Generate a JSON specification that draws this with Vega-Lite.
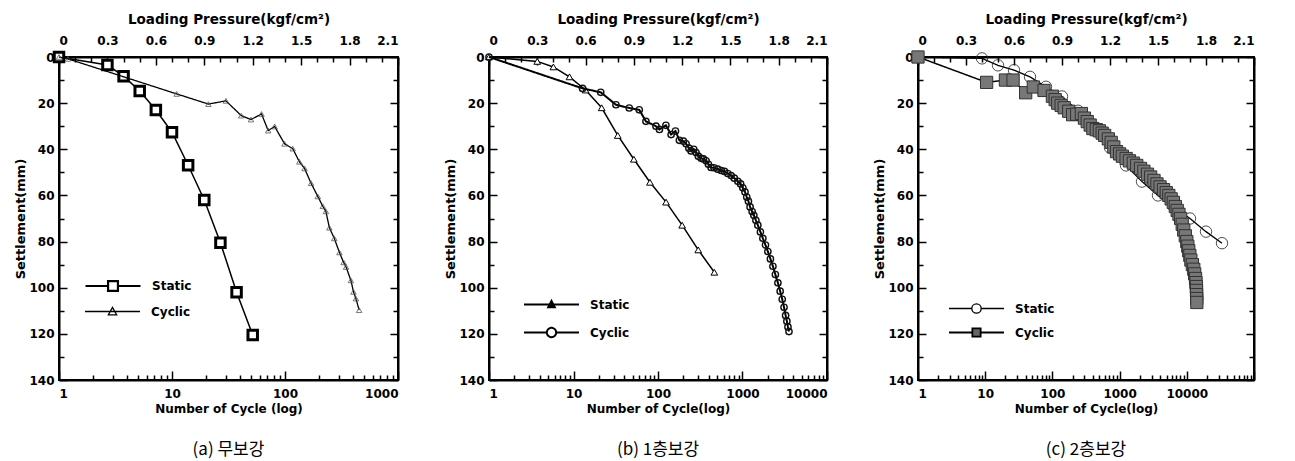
{
  "$schema": "https://vega.github.io/schema/vega-lite/v6.json",
  "background": "white",
  "padding": {"left": 13, "top": 11, "right": 5, "bottom": 5},
  "bounds": "flush",
  "spacing": 91,
  "resolve": {"scale": {"x": "independent", "y": "independent", "color": "independent", "strokeDash": "independent"}, "legend": {"color": "independent", "strokeDash": "independent"}},
  "config": {
    "view": {"stroke": "black", "strokeWidth": 2},
    "axis": {"grid": false, "domainColor": "black", "domainWidth": 2, "tickColor": "black", "tickWidth": 1.5,
      "labelFont": "DejaVu Sans", "labelFontSize": 12, "labelFontWeight": "bold", "labelColor": "black",
      "titleFont": "DejaVu Sans", "titleFontSize": 12, "titleFontWeight": "bold", "titleColor": "black"},
    "legend": {"title": null, "orient": "none", "padding": 0, "symbolSize": 3025, "symbolStrokeColor": "black", "symbolStrokeWidth": 1.6, "symbolFillColor": "white",
      "labelFont": "DejaVu Sans", "labelFontSize": 12, "labelFontWeight": "bold", "labelColor": "black", "labelOffset": 10},
    "title": {"font": "Noto Sans CJK KR", "fontSize": 17, "fontWeight": "normal", "color": "black", "orient": "bottom", "anchor": "middle", "offset": 28}
  },
  "hconcat": [
    {
      "width": 339, "height": 323,
      "title": {"text": "(a) 무보강"},
      "resolve": {"scale": {"x": "independent"}, "axis": {"x": "independent", "y": "independent"}},
      "layer": [
        {
          "data": {"values": [
            {"pressure": 0, "settlement": 0}, {"pressure": 0.3, "settlement": 3.5}, {"pressure": 0.4, "settlement": 8.3},
            {"pressure": 0.5, "settlement": 14.7}, {"pressure": 0.6, "settlement": 23}, {"pressure": 0.7, "settlement": 32.6},
            {"pressure": 0.8, "settlement": 46.9}, {"pressure": 0.9, "settlement": 62}, {"pressure": 1.0, "settlement": 80.5},
            {"pressure": 1.1, "settlement": 102}, {"pressure": 1.2, "settlement": 120.5}
          ]},
          "encoding": {
            "x": {"field": "pressure", "type": "quantitative", "scale": {"domain": [0, 2.1], "nice": false},
              "axis": {"orient": "top", "title": "Loading Pressure(kgf/cm²)", "titleFontSize": 13.5, "titlePadding": 8,
                "values": [0,0.1,0.2,0.3,0.4,0.5,0.6,0.7,0.8,0.9,1.0,1.1,1.2,1.3,1.4,1.5,1.6,1.7,1.8,1.9,2.0,2.1],
                "labelExpr": "round(datum.value*10) % 3 === 0 ? (datum.value === 0 ? '0' : format(datum.value, '.1f')) : ''",
                "tickSize": {"condition": {"test": "round(datum.value*10) % 3 === 0", "value": -8}, "value": -5},
                "labelPadding": 18}},
            "y": {"field": "settlement", "type": "quantitative", "scale": {"domain": [0, 140], "reverse": true, "nice": false},
              "axis": {"orient": "left", "title": "Settlement(mm)", "titleFontSize": 13, "titlePadding": 1,
                "values": [0,10,20,30,40,50,60,70,80,90,100,110,120,130,140],
                "labelExpr": "datum.value % 20 === 0 ? datum.label : ''",
                "tickSize": {"condition": {"test": "datum.value % 20 === 0", "value": -8}, "value": -5},
                "labelPadding": 13}}
          },
          "layer": [
            {"mark": {"type": "line", "strokeWidth": 1.5},
              "encoding": {"color": {"datum": "Static", "scale": {"range": ["black"]},
                "legend": {"legendX": 25, "legendY": 200, "symbolStrokeWidth": 2.2,
                  "symbolType": "M-1,0H-0.18M0.18,0H1M-0.18,-0.18H0.18V0.18H-0.18Z"}}}},
            {"mark": {"type": "point", "shape": "square", "filled": true, "fill": "white", "stroke": "black", "strokeWidth": 3, "size": 90, "opacity": 1}}
          ]
        },
        {
          "data": {"values": [
            {"cycle": 1, "settlement": 0}, {"cycle": 1.2, "settlement": 0.8}, {"cycle": 11, "settlement": 16}, {"cycle": 21, "settlement": 20.4},
            {"cycle": 30, "settlement": 19}, {"cycle": 41, "settlement": 25.4}, {"cycle": 50, "settlement": 27.1}, {"cycle": 62, "settlement": 24.7},
            {"cycle": 71, "settlement": 31.9}, {"cycle": 81, "settlement": 30.1}, {"cycle": 99, "settlement": 37.6}, {"cycle": 117, "settlement": 39.7},
            {"cycle": 134, "settlement": 45.4}, {"cycle": 149, "settlement": 48.3}, {"cycle": 170, "settlement": 54.7}, {"cycle": 195, "settlement": 60.4},
            {"cycle": 216, "settlement": 64.7}, {"cycle": 230, "settlement": 66.9}, {"cycle": 247, "settlement": 74}, {"cycle": 273, "settlement": 78.6},
            {"cycle": 303, "settlement": 84.7}, {"cycle": 330, "settlement": 89}, {"cycle": 347, "settlement": 91}, {"cycle": 383, "settlement": 96.8},
            {"cycle": 404, "settlement": 101.8}, {"cycle": 424, "settlement": 104.7}, {"cycle": 453, "settlement": 109.7}
          ]},
          "encoding": {
            "x": {"field": "cycle", "type": "quantitative", "scale": {"type": "log", "domain": [1, 1000], "nice": false},
              "axis": {"orient": "bottom", "title": "Number of Cycle (log)", "titlePadding": 4, "format": "d",
                "values": [1,2,3,4,5,6,7,8,9,10,20,30,40,50,60,70,80,90,100,200,300,400,500,600,700,800,900,1000],
                "labelExpr": "abs(log(datum.value)/LN10 - round(log(datum.value)/LN10)) < 0.001 ? datum.label : ''",
                "tickSize": {"condition": {"test": "abs(log(datum.value)/LN10 - round(log(datum.value)/LN10)) < 0.001", "value": -9}, "value": -5},
                "labelPadding": 17}},
            "y": {"field": "settlement", "type": "quantitative", "scale": {"domain": [0, 140], "reverse": true, "nice": false},
              "axis": {"orient": "right", "title": null, "labels": false,
                "values": [0,10,20,30,40,50,60,70,80,90,100,110,120,130,140],
                "tickSize": {"condition": {"test": "datum.value % 20 === 0", "value": -8}, "value": -5}}}
          },
          "layer": [
            {"mark": {"type": "line", "color": "black", "strokeWidth": 1.3},
              "encoding": {"strokeDash": {"datum": "Cyclic", "scale": {"range": [[1, 0]]},
                "legend": {"legendX": 25, "legendY": 226, "symbolStrokeWidth": 1.3,
                  "symbolType": "M-1,0H1M0,-0.15L0.15,0.12L-0.15,0.12Z"}}}},
            {"mark": {"type": "point", "shape": "triangle-up", "filled": false, "stroke": "#555", "strokeWidth": 0.8, "size": 30, "opacity": 1}}
          ]
        }
      ]
    },
    {
      "width": 338, "height": 323,
      "title": {"text": "(b) 1층보강"},
      "resolve": {"scale": {"x": "independent"}, "axis": {"x": "independent", "y": "independent"}},
      "layer": [
        {
          "data": {"values": [
            {"pressure": 0, "settlement": 0}, {"pressure": 0.3, "settlement": 1.9}, {"pressure": 0.4, "settlement": 4.3},
            {"pressure": 0.5, "settlement": 8.6}, {"pressure": 0.6, "settlement": 14.3}, {"pressure": 0.7, "settlement": 22},
            {"pressure": 0.8, "settlement": 34}, {"pressure": 0.9, "settlement": 44.3}, {"pressure": 1.0, "settlement": 54.3},
            {"pressure": 1.1, "settlement": 62.9}, {"pressure": 1.2, "settlement": 72.9}, {"pressure": 1.3, "settlement": 83.6},
            {"pressure": 1.4, "settlement": 93.3}
          ]},
          "encoding": {
            "x": {"field": "pressure", "type": "quantitative", "scale": {"domain": [0, 2.1], "nice": false},
              "axis": {"orient": "top", "title": "Loading Pressure(kgf/cm²)", "titleFontSize": 13.5, "titlePadding": 8,
                "values": [0,0.1,0.2,0.3,0.4,0.5,0.6,0.7,0.8,0.9,1.0,1.1,1.2,1.3,1.4,1.5,1.6,1.7,1.8,1.9,2.0,2.1],
                "labelExpr": "round(datum.value*10) % 3 === 0 ? (datum.value === 0 ? '0' : format(datum.value, '.1f')) : ''",
                "tickSize": {"condition": {"test": "round(datum.value*10) % 3 === 0", "value": -8}, "value": -5},
                "labelPadding": 18}},
            "y": {"field": "settlement", "type": "quantitative", "scale": {"domain": [0, 140], "reverse": true, "nice": false},
              "axis": {"orient": "left", "title": "Settlement(mm)", "titleFontSize": 13, "titlePadding": 1,
                "values": [0,10,20,30,40,50,60,70,80,90,100,110,120,130,140],
                "labelExpr": "datum.value % 20 === 0 ? datum.label : ''",
                "tickSize": {"condition": {"test": "datum.value % 20 === 0", "value": -8}, "value": -5},
                "labelPadding": 13}}
          },
          "layer": [
            {"mark": {"type": "line", "strokeWidth": 1.5},
              "encoding": {"color": {"datum": "Static", "scale": {"range": ["black"]},
                "legend": {"legendX": 34, "legendY": 219, "symbolStrokeWidth": 2, "symbolFillColor": "black",
                  "symbolType": "M-1,0H1M0,-0.13L0.12,0.1L-0.12,0.1Z"}}}},
            {"mark": {"type": "point", "shape": "triangle-up", "filled": true, "fill": "white", "stroke": "black", "strokeWidth": 1, "size": 45, "opacity": 1}}
          ]
        },
        {
          "data": {"values": [
            {"cycle": 1, "settlement": 0}, {"cycle": 12.8, "settlement": 13.6}, {"cycle": 21, "settlement": 15.3}, {"cycle": 31.8, "settlement": 20.7},
            {"cycle": 45.7, "settlement": 22.1}, {"cycle": 60, "settlement": 22.9}, {"cycle": 72, "settlement": 27.9}, {"cycle": 94.7, "settlement": 30},
            {"cycle": 104, "settlement": 31.4}, {"cycle": 124, "settlement": 29.6}, {"cycle": 143, "settlement": 33.6}, {"cycle": 161, "settlement": 32.1},
            {"cycle": 179, "settlement": 36.1}, {"cycle": 200, "settlement": 36.5}, {"cycle": 215, "settlement": 37.6}, {"cycle": 232, "settlement": 39.5},
            {"cycle": 246, "settlement": 40.7}, {"cycle": 265, "settlement": 40}, {"cycle": 282, "settlement": 41.4}, {"cycle": 300, "settlement": 43},
            {"cycle": 324, "settlement": 43.9}, {"cycle": 345, "settlement": 44.2}, {"cycle": 371, "settlement": 45}, {"cycle": 395, "settlement": 46.5},
            {"cycle": 425, "settlement": 47.9}, {"cycle": 460, "settlement": 48}, {"cycle": 510, "settlement": 48.6}, {"cycle": 560, "settlement": 49.2},
            {"cycle": 612, "settlement": 49.6}, {"cycle": 670, "settlement": 50.5}, {"cycle": 734, "settlement": 51.4}, {"cycle": 800, "settlement": 52.5},
            {"cycle": 881, "settlement": 53.9}, {"cycle": 950, "settlement": 55}, {"cycle": 1009, "settlement": 56.7}, {"cycle": 1070, "settlement": 58.5},
            {"cycle": 1123, "settlement": 60.7}, {"cycle": 1175, "settlement": 62.5}, {"cycle": 1230, "settlement": 65}, {"cycle": 1300, "settlement": 67},
            {"cycle": 1362, "settlement": 68.6}, {"cycle": 1440, "settlement": 70.8}, {"cycle": 1519, "settlement": 72.9}, {"cycle": 1630, "settlement": 75.8},
            {"cycle": 1741, "settlement": 78.6}, {"cycle": 1870, "settlement": 81.5}, {"cycle": 1996, "settlement": 84.3}, {"cycle": 2140, "settlement": 87.5},
            {"cycle": 2290, "settlement": 90.7}, {"cycle": 2450, "settlement": 94.3}, {"cycle": 2624, "settlement": 97.9}, {"cycle": 2790, "settlement": 101.5},
            {"cycle": 2953, "settlement": 105}, {"cycle": 3100, "settlement": 108.5}, {"cycle": 3237, "settlement": 112}, {"cycle": 3350, "settlement": 114.5},
            {"cycle": 3451, "settlement": 117}, {"cycle": 3548, "settlement": 119}
          ]},
          "encoding": {
            "x": {"field": "cycle", "type": "quantitative", "scale": {"type": "log", "domain": [1, 10000], "nice": false},
              "axis": {"orient": "bottom", "title": "Number of Cycle(log)", "titlePadding": 4, "format": "d",
                "values": [1,2,3,4,5,6,7,8,9,10,20,30,40,50,60,70,80,90,100,200,300,400,500,600,700,800,900,1000,2000,3000,4000,5000,6000,7000,8000,9000,10000],
                "labelExpr": "abs(log(datum.value)/LN10 - round(log(datum.value)/LN10)) < 0.001 ? datum.label : ''",
                "tickSize": {"condition": {"test": "abs(log(datum.value)/LN10 - round(log(datum.value)/LN10)) < 0.001", "value": -9}, "value": -5},
                "labelPadding": 17}},
            "y": {"field": "settlement", "type": "quantitative", "scale": {"domain": [0, 140], "reverse": true, "nice": false},
              "axis": {"orient": "right", "title": null, "labels": false,
                "values": [0,10,20,30,40,50,60,70,80,90,100,110,120,130,140],
                "tickSize": {"condition": {"test": "datum.value % 20 === 0", "value": -8}, "value": -5}}}
          },
          "layer": [
            {"mark": {"type": "line", "color": "black", "strokeWidth": 2},
              "encoding": {"strokeDash": {"datum": "Cyclic", "scale": {"range": [[1, 0]]},
                "legend": {"legendX": 34, "legendY": 247, "symbolStrokeWidth": 2,
                  "symbolType": "M-1,0H-0.17M0.17,0H1M-0.17,0A0.17,0.17 0 1,0 0.17,0A0.17,0.17 0 1,0 -0.17,0Z"}}}},
            {"mark": {"type": "point", "shape": "circle", "filled": false, "stroke": "#111", "strokeWidth": 1.4, "size": 40, "opacity": 1}}
          ]
        }
      ]
    },
    {
      "width": 336, "height": 323,
      "title": {"text": "(c) 2층보강"},
      "resolve": {"scale": {"x": "independent"}, "axis": {"x": "independent", "y": "independent"}},
      "layer": [
        {
          "data": {"values": [
            {"pressure": 0, "settlement": 0}, {"pressure": 0.4, "settlement": 0.6}, {"pressure": 0.5, "settlement": 3.6},
            {"pressure": 0.6, "settlement": 5.7}, {"pressure": 0.7, "settlement": 8.6}, {"pressure": 0.8, "settlement": 12.9},
            {"pressure": 0.9, "settlement": 17.1}, {"pressure": 1.0, "settlement": 23.3}, {"pressure": 1.1, "settlement": 31},
            {"pressure": 1.2, "settlement": 39.3}, {"pressure": 1.3, "settlement": 47}, {"pressure": 1.4, "settlement": 54},
            {"pressure": 1.5, "settlement": 60}, {"pressure": 1.6, "settlement": 65}, {"pressure": 1.7, "settlement": 70},
            {"pressure": 1.8, "settlement": 75.7}, {"pressure": 1.9, "settlement": 80.7}
          ]},
          "encoding": {
            "x": {"field": "pressure", "type": "quantitative", "scale": {"domain": [0, 2.1], "nice": false},
              "axis": {"orient": "top", "title": "Loading Pressure(kgf/cm²)", "titleFontSize": 13.5, "titlePadding": 8,
                "values": [0,0.1,0.2,0.3,0.4,0.5,0.6,0.7,0.8,0.9,1.0,1.1,1.2,1.3,1.4,1.5,1.6,1.7,1.8,1.9,2.0,2.1],
                "labelExpr": "round(datum.value*10) % 3 === 0 ? (datum.value === 0 ? '0' : format(datum.value, '.1f')) : ''",
                "tickSize": {"condition": {"test": "round(datum.value*10) % 3 === 0", "value": -8}, "value": -5},
                "labelPadding": 18}},
            "y": {"field": "settlement", "type": "quantitative", "scale": {"domain": [0, 140], "reverse": true, "nice": false},
              "axis": {"orient": "left", "title": "Settlement(mm)", "titleFontSize": 13, "titlePadding": 1,
                "values": [0,10,20,30,40,50,60,70,80,90,100,110,120,130,140],
                "labelExpr": "datum.value % 20 === 0 ? datum.label : ''",
                "tickSize": {"condition": {"test": "datum.value % 20 === 0", "value": -8}, "value": -5},
                "labelPadding": 13}}
          },
          "layer": [
            {"mark": {"type": "line", "strokeWidth": 1.3},
              "encoding": {"color": {"datum": "Static", "scale": {"range": ["black"]},
                "legend": {"legendX": 30, "legendY": 223, "symbolStrokeWidth": 1.3,
                  "symbolType": "M-1,0H-0.17M0.17,0H1M-0.17,0A0.17,0.17 0 1,0 0.17,0A0.17,0.17 0 1,0 -0.17,0Z"}}}},
            {"mark": {"type": "point", "shape": "circle", "filled": false, "stroke": "#222", "strokeWidth": 0.8, "size": 130, "opacity": 1}}
          ]
        },
        {
          "data": {"values": [
            {"cycle": 1, "settlement": 0}, {"cycle": 10.5, "settlement": 11}, {"cycle": 20, "settlement": 10}, {"cycle": 26, "settlement": 10},
            {"cycle": 40, "settlement": 15.5}, {"cycle": 52, "settlement": 13}, {"cycle": 75, "settlement": 14.5}, {"cycle": 100, "settlement": 17},
            {"cycle": 110, "settlement": 18.5}, {"cycle": 120, "settlement": 20}, {"cycle": 135, "settlement": 21}, {"cycle": 150, "settlement": 22},
            {"cycle": 175, "settlement": 23.5}, {"cycle": 200, "settlement": 25}, {"cycle": 230, "settlement": 24.8}, {"cycle": 270, "settlement": 24.5},
            {"cycle": 300, "settlement": 26.5}, {"cycle": 330, "settlement": 28}, {"cycle": 365, "settlement": 29.5}, {"cycle": 400, "settlement": 31},
            {"cycle": 450, "settlement": 31.5}, {"cycle": 500, "settlement": 32}, {"cycle": 550, "settlement": 33}, {"cycle": 600, "settlement": 34},
            {"cycle": 680, "settlement": 35.5}, {"cycle": 750, "settlement": 37}, {"cycle": 820, "settlement": 39}, {"cycle": 900, "settlement": 41},
            {"cycle": 1000, "settlement": 42}, {"cycle": 1100, "settlement": 43}, {"cycle": 1250, "settlement": 44}, {"cycle": 1400, "settlement": 45},
            {"cycle": 1600, "settlement": 46}, {"cycle": 1800, "settlement": 47}, {"cycle": 2050, "settlement": 48.3}, {"cycle": 2300, "settlement": 49.5},
            {"cycle": 2600, "settlement": 50.8}, {"cycle": 2900, "settlement": 52}, {"cycle": 3250, "settlement": 53.5}, {"cycle": 3600, "settlement": 55},
            {"cycle": 4000, "settlement": 56.3}, {"cycle": 4500, "settlement": 57.5}, {"cycle": 4950, "settlement": 58.8}, {"cycle": 5400, "settlement": 60},
            {"cycle": 5850, "settlement": 61.5}, {"cycle": 6300, "settlement": 63}, {"cycle": 6750, "settlement": 64.8}, {"cycle": 7200, "settlement": 66.5},
            {"cycle": 7650, "settlement": 68.2}, {"cycle": 8100, "settlement": 70}, {"cycle": 8550, "settlement": 72.5}, {"cycle": 9000, "settlement": 75},
            {"cycle": 9500, "settlement": 77.5}, {"cycle": 10000, "settlement": 80}, {"cycle": 10350, "settlement": 82}, {"cycle": 10700, "settlement": 84},
            {"cycle": 11100, "settlement": 86}, {"cycle": 11500, "settlement": 88}, {"cycle": 12100, "settlement": 90}, {"cycle": 12700, "settlement": 92},
            {"cycle": 13100, "settlement": 94}, {"cycle": 13500, "settlement": 96}, {"cycle": 13700, "settlement": 97.8}, {"cycle": 13900, "settlement": 99.5},
            {"cycle": 13950, "settlement": 101.2}, {"cycle": 14000, "settlement": 103}, {"cycle": 14050, "settlement": 104.7}, {"cycle": 14100, "settlement": 106.4}
          ]},
          "encoding": {
            "x": {"field": "cycle", "type": "quantitative", "scale": {"type": "log", "domain": [1, 100000], "nice": false},
              "axis": {"orient": "bottom", "title": "Number of Cycle(log)", "titlePadding": 4, "format": "d",
                "values": [1,2,3,4,5,6,7,8,9,10,20,30,40,50,60,70,80,90,100,200,300,400,500,600,700,800,900,1000,2000,3000,4000,5000,6000,7000,8000,9000,10000,20000,30000,40000,50000,60000,70000,80000,90000,100000],
                "labelExpr": "abs(log(datum.value)/LN10 - round(log(datum.value)/LN10)) < 0.001 ? datum.label : ''",
                "tickSize": {"condition": {"test": "abs(log(datum.value)/LN10 - round(log(datum.value)/LN10)) < 0.001", "value": -9}, "value": -5},
                "labelPadding": 17}},
            "y": {"field": "settlement", "type": "quantitative", "scale": {"domain": [0, 140], "reverse": true, "nice": false},
              "axis": {"orient": "right", "title": null, "labels": false,
                "values": [0,10,20,30,40,50,60,70,80,90,100,110,120,130,140],
                "tickSize": {"condition": {"test": "datum.value % 20 === 0", "value": -8}, "value": -5}}}
          },
          "layer": [
            {"mark": {"type": "line", "color": "black", "strokeWidth": 1.5},
              "encoding": {"strokeDash": {"datum": "Cyclic", "scale": {"range": [[1, 0]]},
                "legend": {"legendX": 30, "legendY": 247, "symbolStrokeWidth": 1.8, "symbolFillColor": "#666",
                  "symbolType": "M-1,0H-0.15M0.15,0H1M-0.15,-0.15H0.15V0.15H-0.15Z"}}}},
            {"mark": {"type": "point", "shape": "square", "filled": true, "fill": "#777", "stroke": "#333", "strokeWidth": 1, "size": 150, "opacity": 1}}
          ]
        }
      ]
    }
  ]
}
